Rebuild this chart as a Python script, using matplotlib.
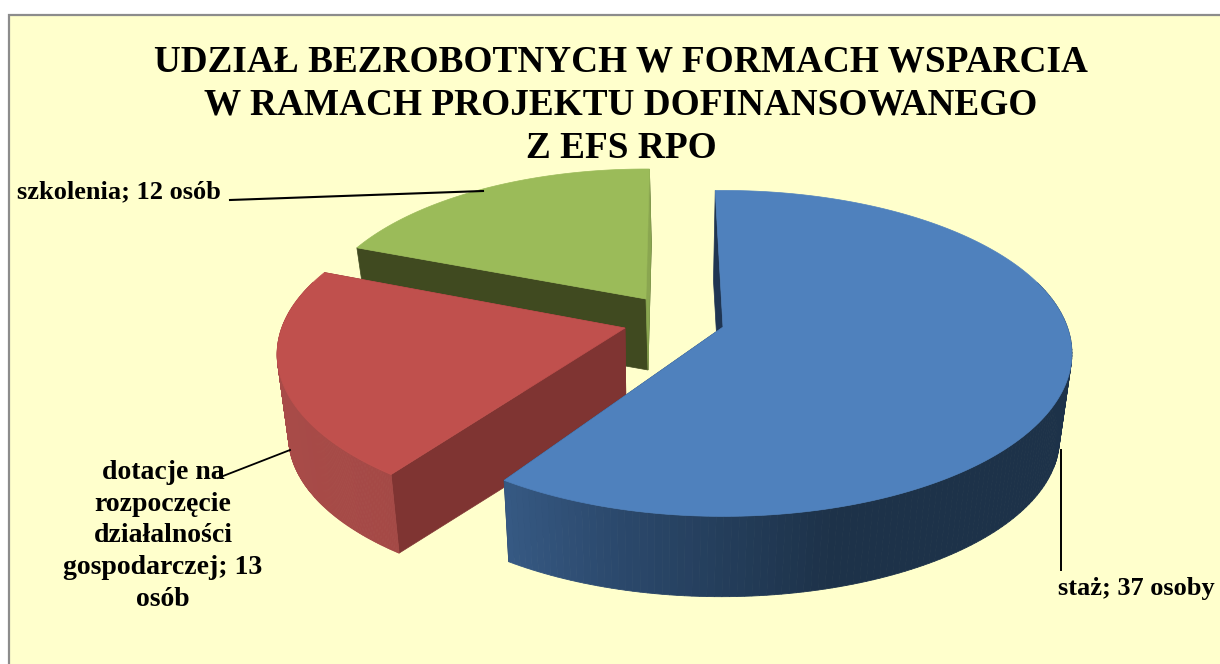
#!/usr/bin/env python3
"""
Exploded 3D-style pie: forms of support for the unemployed
"""

import matplotlib
matplotlib.use('Agg')
import matplotlib.pyplot as plt
from matplotlib.colors import LinearSegmentedColormap
from matplotlib.patches import Polygon, Rectangle
import numpy as np

# Data
categories = ['staż', 'dotacje', 'szkolenia']
values = [37, 13, 12]

title_text = ('UDZIAŁ BEZROBOTNYCH W FORMACH WSPARCIA\n'
              'W RAMACH PROJEKTU DOFINANSOWANEGO\n'
              'Z EFS RPO')

plt.rcParams['font.family'] = ['Liberation Serif', 'DejaVu Serif']

# Look of each slice
apex = {'staż': (723, 327), 'dotacje': (625, 328), 'szkolenia': (646, 299)}
scale = {'staż': 0.998, 'dotacje': 0.995, 'szkolenia': 0.95}
turn = {'staż': 1.5, 'dotacje': -1.5, 'szkolenia': -0.7}
depth = {'staż': (-2, 86), 'dotacje': (1, 83), 'szkolenia': (2, 71)}
top_color = {'staż': '#4f81bd', 'dotacje': '#c0504d', 'szkolenia': '#9bbb59'}
cut_color = {'staż': '#1f3552', 'dotacje': '#7f3432', 'szkolenia': '#404a20'}
side_colors = {'staż': ['#436d9e', '#2c4a6e', '#1d3249', '#1d3249'],
               'dotacje': ['#a84b48', '#a04644', '#924040', '#924040'],
               'szkolenia': ['#5d7035', '#5d7035', '#5d7035', '#5d7035']}

RX, RY, PERSP = 345, 159, 0.162
DEPTH_SCALE = 0.97


def rim(theta, name, lower=False):
    # points on the slice edge with a little perspective
    f = scale[name] / (1 + PERSP * np.sin(theta))
    x = RX * np.cos(theta) * f
    y = -RY * np.sin(theta) * f
    if lower:
        return (apex[name][0] + depth[name][0] + DEPTH_SCALE * x,
                apex[name][1] + depth[name][1] + DEPTH_SCALE * y)
    return apex[name][0] + x, apex[name][1] + y


def draw_slice(ax, name, start, end):
    t = np.linspace(start, end, 200) + np.radians(turn[name])
    ax0, ay0 = apex[name]
    lx0, ly0 = ax0 + depth[name][0], ay0 + depth[name][1]
    ux, uy = rim(t, name)
    lx, ly = rim(t, name, lower=True)

    # cut faces
    for i in (0, -1):
        ax.add_patch(Polygon([(ux[i], uy[i]), (ax0, ay0), (lx0, ly0), (lx[i], ly[i])],
                             fc=cut_color[name], ec=cut_color[name], lw=0.5))
    # green has a thin lit face on its right side
    if name == 'szkolenia':
        ax.add_patch(Polygon([(ux[-1], uy[-1]), (ax0, ay0), (lx0, ly0), (lx[-1], ly[-1])],
                             fc='#8aa650', ec='#8aa650', lw=0.5))

    # outer wall, shaded across x
    cmap = LinearSegmentedColormap.from_list(name, side_colors[name])
    x_lo, x_hi = ax0 - 345, ax0 + 345
    for i in range(len(t) - 1):
        if np.sin(t[i]) > 0.3:
            continue
        c = cmap((ux[i] - x_lo) / (x_hi - x_lo))
        ax.add_patch(Polygon([(ux[i], uy[i]), (ux[i + 1], uy[i + 1]),
                              (lx[i + 1], ly[i + 1]), (lx[i], ly[i])],
                             fc=c, ec=c, lw=0.6))

    # top
    ax.add_patch(Polygon(np.r_[[(ax0, ay0)], np.c_[ux, uy]],
                         fc=top_color[name], ec=top_color[name], lw=0.5))


fig = plt.figure(figsize=(12.2, 6.64), dpi=100, facecolor='white')
ax = fig.add_axes([0, 0, 1, 1])
ax.set_xlim(0, 1220)
ax.set_ylim(664, 0)
ax.axis('off')

ax.add_patch(Rectangle((9, 15), 1300, 700, fc='#ffffcc', ec='#8c8c8c', lw=1.6))

# Slices go clockwise from twelve o'clock
angles = np.cumsum([0] + values) / sum(values) * 2 * np.pi
spans = {n: (np.pi / 2 - angles[i], np.pi / 2 - angles[i + 1])
         for i, n in enumerate(categories)}

for name in ['szkolenia', 'dotacje', 'staż']:
    draw_slice(ax, name, *spans[name])

ax.text(621, 105, title_text, ha='center', va='center', fontsize=26.8,
        fontweight='bold', linespacing=1.3, color='black')

# Leader lines and labels
ax.plot([230, 483], [200, 191], color='black', lw=1.5)
ax.plot([218, 290], [478, 450], color='black', lw=1.3)
ax.plot([1061, 1061], [450, 570], color='black', lw=1.4)

ax.text(17, 192, 'szkolenia; 12 osób', ha='left', va='center', fontsize=19, fontweight='bold')
ax.text(163, 536, 'dotacje na\nrozpoczęcie\ndziałalności\ngospodarczej; 13\nosób', ha='center',
        va='center', fontsize=20, fontweight='bold', linespacing=1.36)
ax.text(1058, 588, 'staż; 37 osoby', ha='left', va='center', fontsize=19, fontweight='bold')

plt.savefig('out.png', dpi=100)
